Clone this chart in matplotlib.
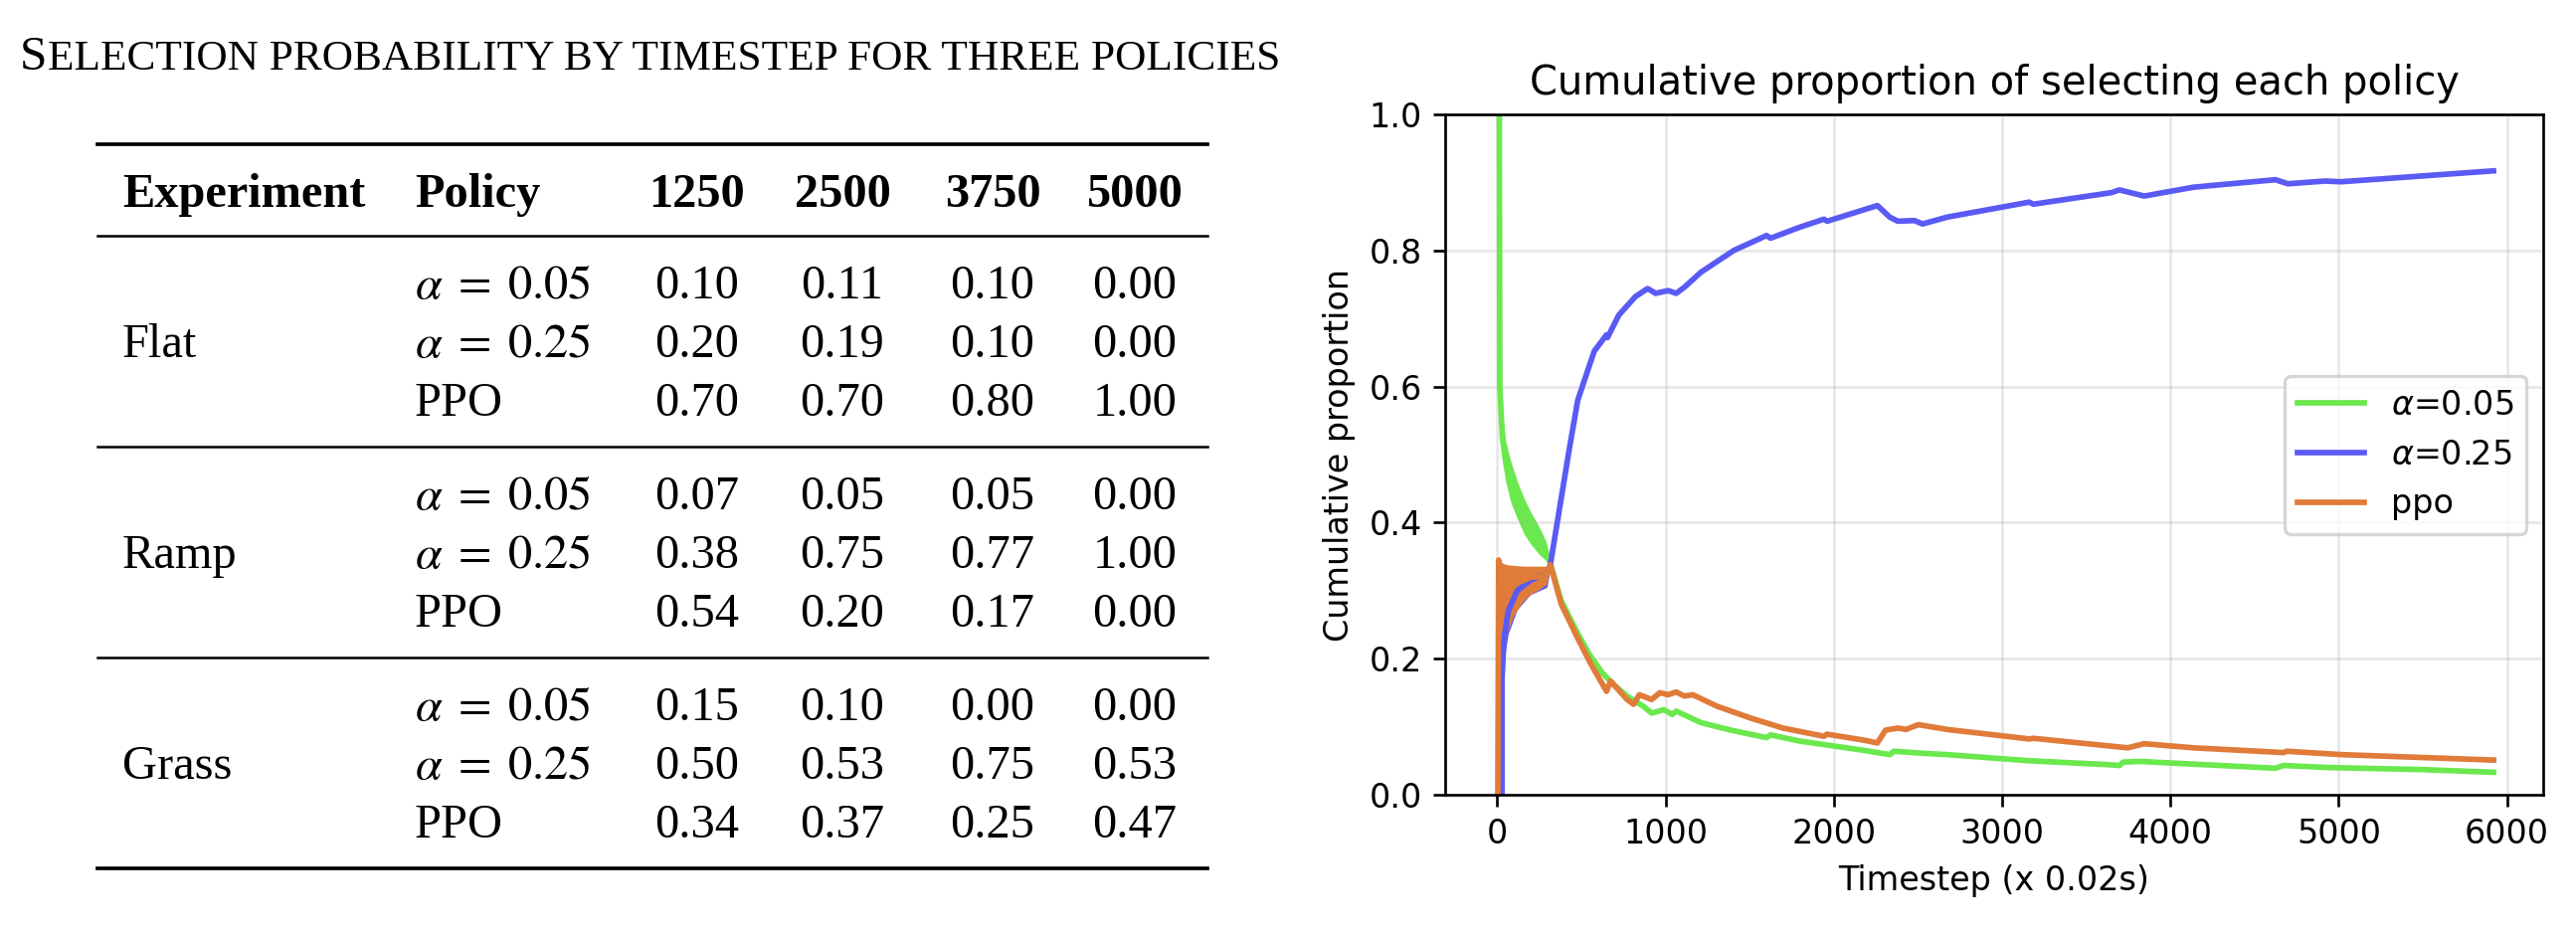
import matplotlib
matplotlib.use('Agg')
import matplotlib.pyplot as plt
import matplotlib.lines as mlines

W, H, DPI = 2590, 942, 240

# ---- table data ----
table_title_first = 'S'
table_title_rest = 'ELECTION PROBABILITY BY TIMESTEP FOR THREE POLICIES'
header = ['Experiment', 'Policy', '1250', '2500', '3750', '5000']
experiments = ['Flat', 'Ramp', 'Grass']
policies = [r'$\alpha\;=\;0.05$', r'$\alpha\;=\;0.25$', 'PPO']
flat_vals = [[0.10, 0.11, 0.10, 0.00],
             [0.20, 0.19, 0.10, 0.00],
             [0.70, 0.70, 0.80, 1.00]]
ramp_vals = [[0.07, 0.05, 0.05, 0.00],
             [0.38, 0.75, 0.77, 1.00],
             [0.54, 0.20, 0.17, 0.00]]
grass_vals = [[0.15, 0.10, 0.00, 0.00],
              [0.50, 0.53, 0.75, 0.53],
              [0.34, 0.37, 0.25, 0.47]]

# ---- chart data ----
green_x = [12, 15, 30, 50, 80, 120, 160, 200, 250, 290, 315, 380, 478, 550, 624, 700, 771, 868,
           917, 990, 1039, 1063, 1210, 1405, 1600, 1624, 1795, 1990, 2185, 2332, 2356, 2527,
           2673, 3161, 3649, 3697, 3720, 3820, 4137, 4624, 4673, 4941, 5500, 5920]
green_y = [1.0, 0.60, 0.525, 0.49, 0.465, 0.43, 0.408, 0.39, 0.372, 0.357, 0.34, 0.285, 0.237,
           0.205, 0.179, 0.16, 0.145, 0.130, 0.120, 0.125, 0.118, 0.123, 0.106, 0.094, 0.084,
           0.088, 0.079, 0.072, 0.065, 0.059, 0.064, 0.061, 0.059, 0.050, 0.044, 0.043, 0.048,
           0.049, 0.045, 0.039, 0.043, 0.040, 0.037, 0.033]
green_band_x = [15, 30, 50, 80, 120, 160, 200, 250, 290, 315]
green_band_hi = [0.62, 0.56, 0.52, 0.49, 0.46, 0.435, 0.415, 0.393, 0.372, 0.345]
green_band_lo = [0.56, 0.49, 0.46, 0.43, 0.405, 0.383, 0.368, 0.353, 0.344, 0.338]

blue_x = [28, 28, 40, 65, 118, 195, 295, 315, 356, 429, 478, 576, 649, 655, 722, 820, 893, 941,
          1015, 1063, 1112, 1210, 1405, 1600, 1624, 1795, 1941, 1960, 2259, 2332, 2380, 2478,
          2527, 2673, 3161, 3185, 3649, 3697, 3844, 4137, 4624, 4698, 4917, 5015, 5920]
blue_y = [0.0, 0.17, 0.23, 0.27, 0.30, 0.315, 0.325, 0.338, 0.40, 0.51, 0.58, 0.652, 0.676,
          0.672, 0.705, 0.732, 0.744, 0.737, 0.741, 0.737, 0.746, 0.768, 0.80, 0.822, 0.818,
          0.834, 0.846, 0.843, 0.866, 0.849, 0.843, 0.844, 0.839, 0.849, 0.871, 0.868, 0.885,
          0.889, 0.880, 0.893, 0.904, 0.898, 0.902, 0.901, 0.917]
blue_band_x = [28, 40, 65, 118, 195, 295, 315]
blue_band_hi = [0.30, 0.31, 0.32, 0.325, 0.33, 0.333, 0.338]
blue_band_lo = [0.17, 0.20, 0.237, 0.272, 0.294, 0.305, 0.332]

orange_x = [3, 8, 20, 36, 60, 100, 155, 200, 250, 295, 315, 380, 478, 550, 649, 673, 771, 810,
            844, 917, 966, 1015, 1063, 1112, 1161, 1307, 1502, 1697, 1941, 1960, 2185, 2258,
            2307, 2380, 2429, 2502, 2551, 2673, 3161, 3185, 3746, 3844, 4137, 4673, 4690,
            5015, 5920]
orange_y = [0.0, 0.345, 0.33, 0.30, 0.31, 0.31, 0.315, 0.32, 0.32, 0.325, 0.338, 0.28, 0.230,
            0.195, 0.152, 0.167, 0.140, 0.133, 0.147, 0.140, 0.150, 0.147, 0.151, 0.145, 0.147,
            0.13, 0.113, 0.098, 0.086, 0.089, 0.080, 0.076, 0.095, 0.098, 0.096, 0.103, 0.101,
            0.096, 0.082, 0.083, 0.069, 0.075, 0.069, 0.062, 0.064, 0.059, 0.051]
orange_band_x = [8, 20, 36, 60, 100, 155, 200, 250, 295, 315]
orange_band_hi = [0.345, 0.342, 0.340, 0.338, 0.337, 0.336, 0.336, 0.336, 0.336, 0.338]
orange_band_lo = [0.0, 0.17, 0.207, 0.24, 0.265, 0.285, 0.295, 0.302, 0.31, 0.335]

c_green, c_blue, c_orange = '#6be84e', '#5a5af5', '#e07b39'

fig = plt.figure(figsize=(W / DPI, H / DPI), dpi=DPI)


def fx(x):
    return x / W


def fy(y):
    return 1 - y / H


# ---------------- table (left) ----------------
serif = 'Liberation Serif'
ty = 70
t1 = fig.text(fx(20), fy(ty), table_title_first, fontsize=14.8, family=serif, va='baseline')
fig.canvas.draw()
bb = t1.get_window_extent()
fig.text(bb.x1 / W, fy(ty), table_title_rest, fontsize=13.0, family=serif, va='baseline')

rule_x0, rule_x1 = 98, 1214
col_left = [123, 417]
col_center = [701, 847, 998, 1141]
fs = 14.5


def rule(y, lw):
    fig.add_artist(mlines.Line2D([fx(rule_x0), fx(rule_x1)], [fy(y), fy(y)],
                                 transform=fig.transFigure, color='black', lw=lw))


hdr_base = 208
rule(145, 1.1)
for i, h in enumerate(header):
    if i < 2:
        fig.text(fx(col_left[i]), fy(hdr_base), h, fontsize=fs, family=serif,
                 weight='bold', va='baseline')
    else:
        fig.text(fx(col_center[i - 2]), fy(hdr_base), h, fontsize=fs, family=serif,
                 weight='bold', va='baseline', ha='center')
rule(237, 0.75)

row_h = 59
y = 237
for g, (name, vals) in enumerate(zip(experiments, [flat_vals, ramp_vals, grass_vals])):
    first = y + 63
    for r in range(3):
        base = first + r * row_h
        if r == 1:
            fig.text(fx(col_left[0]), fy(base), name, fontsize=fs, family=serif, va='baseline')
        fig.text(fx(col_left[1]), fy(base), policies[r], fontsize=fs, family=serif,
                 math_fontfamily='stix', va='baseline')
        for c, v in enumerate(vals[r]):
            fig.text(fx(col_center[c]), fy(base), f'{v:.2f}', fontsize=fs, family=serif,
                     va='baseline', ha='center')
    y = first + 2 * row_h + 31
    rule(y, 1.1 if g == 2 else 0.75)

# ---------------- chart (right) ----------------
ax = fig.add_axes([1453 / W, 1 - 799 / H, (2557 - 1453) / W, (799 - 115) / H])

lw = 1.7
ax.fill_between(green_band_x, green_band_lo, green_band_hi, color=c_green, lw=0)
ax.plot(green_x, green_y, color=c_green, lw=lw, label=r'$\alpha$=0.05')
ax.fill_between(blue_band_x, blue_band_lo, blue_band_hi, color=c_blue, lw=0)
ax.plot(blue_x, blue_y, color=c_blue, lw=lw, label=r'$\alpha$=0.25')
ax.fill_between(orange_band_x, orange_band_lo, orange_band_hi, color=c_orange, lw=0)
ax.plot(orange_x, orange_y, color=c_orange, lw=lw, label='ppo')

ax.set_ylim(0, 1.0)
ax.set_xlim(-310, 6215)
ax.set_xticks([0, 1000, 2000, 3000, 4000, 5000, 6000])
ax.set_yticks([0.0, 0.2, 0.4, 0.6, 0.8, 1.0])
ax.grid(True, alpha=0.3)
ax.set_title('Cumulative proportion of selecting each policy')
ax.set_xlabel('Timestep (x 0.02s)')
ax.set_ylabel('Cumulative proportion')
ax.legend(loc='center right')

fig.savefig('out.png', dpi=DPI)
